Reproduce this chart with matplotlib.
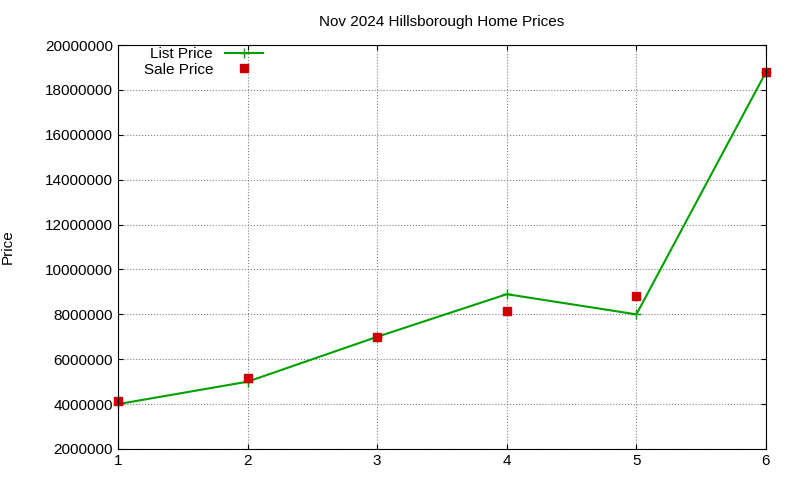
import numpy as np
import matplotlib.pyplot as plt

plt.rcParams['font.family'] = ['Liberation Sans', 'DejaVu Sans']

x = [1, 2, 3, 4, 5, 6]
list_price = [4000000, 5000000, 7000000, 8900000, 8000000, 18800000]
sale_price = [4130000, 5150000, 7000000, 8150000, 8820000, 18800000]

fig = plt.figure(figsize=(8, 4.8), dpi=100)
ax = fig.add_axes([0.1475, 0.0646, 0.81, 0.8414])

ax.plot(x, list_price, color='#00a000', lw=1.5, marker='+', ms=7, label='List Price', clip_on=False)
ax.plot(x, sale_price, ls='none', marker='s', ms=6, color='#cc0000', label='Sale Price', clip_on=False)

ax.set_xlim(1, 6)
ax.set_ylim(2000000, 20000000)
ax.set_yticks(np.arange(2000000, 20000001, 2000000))
ax.ticklabel_format(style='plain', axis='y')
ax.grid(True, ls=':', color='#808080', lw=0.8)
ax.tick_params(direction='in', top=True, right=True, labelsize=11)
ax.set_ylabel('Price', fontsize=11)
ax.yaxis.set_label_coords(-0.16, 0.5)
ax.set_title('Nov 2024 Hillsborough Home Prices', fontsize=11, pad=14)
ax.legend(loc='upper left', frameon=False, markerfirst=False, fontsize=11,
          handlelength=2.5, borderaxespad=0.0, labelspacing=0.1,
          bbox_to_anchor=(0.03, 1.01))

fig.savefig('out.png')
